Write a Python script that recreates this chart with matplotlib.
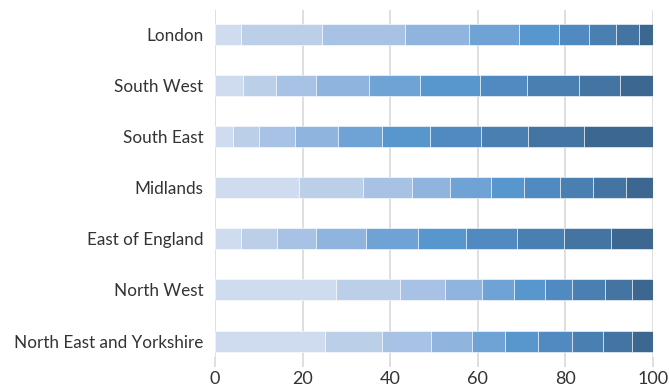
import numpy as np
import matplotlib
matplotlib.use("Agg")
import matplotlib.pyplot as plt

plt.rcParams['font.family'] = ['Lato', 'DejaVu Sans']

regions = ['London', 'South West', 'South East', 'Midlands', 'East of England',
           'North West', 'North East and Yorkshire']

# share of each band (10 bands per region, summing to ~100)
london = [5.9, 18.5, 18.9, 14.6, 11.4, 9.2, 7.0, 6.0, 5.2, 3.3]
south_west = [6.5, 7.4, 9.2, 12.0, 11.6, 13.7, 10.9, 11.9, 9.3, 7.5]
south_east = [4.1, 5.9, 8.3, 9.7, 10.1, 11.1, 11.5, 10.8, 12.7, 15.8]
midlands = [19.1, 14.8, 11.0, 8.8, 9.2, 7.6, 8.3, 7.6, 7.4, 6.2]
east_england = [5.9, 8.2, 9.0, 11.3, 11.9, 11.1, 11.6, 10.7, 10.6, 9.7]
north_west = [27.6, 14.6, 10.2, 8.5, 7.4, 7.0, 6.1, 7.6, 6.3, 4.7]
ne_yorks = [25.0, 13.1, 11.3, 9.2, 7.7, 7.5, 7.6, 7.1, 6.6, 4.9]

colors = ['#cfdbee', '#bbcfe8', '#a8c2e5', '#8fb4de', '#6fa3d6',
          '#5897cd', '#518ac0', '#4a7fb1', '#4374a2', '#3b6791']

data = np.array([london, south_west, south_east, midlands, east_england,
                 north_west, ne_yorks])

fig = plt.figure(figsize=(6.69, 3.87), dpi=100)
ax = fig.add_axes([215/669, 1 - 357/387, 438/669, 347/387])

y = np.arange(len(regions))
left = np.zeros(len(regions))
for j in range(data.shape[1]):
    ax.barh(y, data[:, j], left=left, height=0.41, color=colors[j],
            edgecolor='white', linewidth=0.4, zorder=3)
    left += data[:, j]

ax.set_xlim(0, 100)
ax.set_ylim(6.31, -0.47)
ax.set_yticks(y)
ax.set_yticklabels(regions, fontsize=12.3, color='#333333')
ax.set_xticks([0, 20, 40, 60, 80, 100])
ax.tick_params(axis='y', length=0, pad=8.5)
ax.tick_params(axis='x', length=7.2, color='#d9d9d9', width=1.2,
               labelsize=13, labelcolor='#333333', pad=3)
ax.grid(axis='x', color='#d9d9d9', linewidth=1.2, zorder=0)
for s in ax.spines.values():
    s.set_visible(False)

fig.savefig('out.png', dpi=100)
